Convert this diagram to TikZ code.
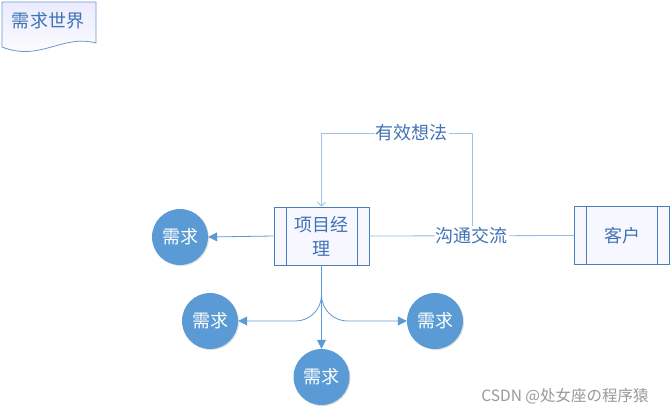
\documentclass[tikz,border=0pt]{standalone}
\usepackage{fontspec}
\setmainfont{Noto Sans CJK SC}
\usepackage{tikz}
\usetikzlibrary{arrows.meta, positioning, shadows}
\definecolor{lineblue}{HTML}{5B9BD5}
\definecolor{lightblue}{HTML}{9DC3E6}
\definecolor{boxblue}{HTML}{4A7EBB}
\definecolor{txtblue}{HTML}{3F73B5}

\tikzset{
	proc/.style={draw=boxblue, thick, fill=blue!3, minimum width=95pt, minimum height=58pt,
		text=txtblue, align=center, font=\fontsize{18}{24}\selectfont, inner sep=0pt,
		path picture={
			\draw[boxblue, thick] ([xshift=12pt]path picture bounding box.north west) -- ([xshift=12pt]path picture bounding box.south west);
			\draw[boxblue, thick] ([xshift=-12pt]path picture bounding box.north east) -- ([xshift=-12pt]path picture bounding box.south east);
		}},
	need/.style={circle, fill=lineblue, minimum size=56pt, inner sep=0pt, text=white,
		font=\fontsize{18}{20}\selectfont, drop shadow={opacity=.25, shadow xshift=1pt, shadow yshift=-1pt}},
	flow/.style={lineblue, thick, -{Triangle[width=9pt,length=9pt]}},
	lbl/.style={fill=white, text=txtblue, inner sep=1pt, font=\fontsize{18}{20}\selectfont}
}

\begin{document}
\begin{tikzpicture}[x=1pt, y=-1pt]
	\useasboundingbox[fill=white] (0,0) rectangle (671,413);
	% document shape
	\draw[boxblue!80, thick, top color=blue!8, bottom color=white]
		(2,2) -- (96,2) -- (96,43) .. controls (62,34) and (40,62) .. (2,47) -- cycle;
	\node[text=txtblue, font=\fontsize{18}{20}\selectfont] (world) at (48,21) {需求世界};

	\node[proc] (pm) at (321.5,236) {项目经\\理};
	\node[proc] (kh) at (622,235.5) {客户};

	\node[need] (n1) at (180,237) {需求};
	\node[need] (n2) at (210,321) {需求};
	\node[need] (n3) at (321.5,377) {需求};
	\node[need] (n4) at (435,321) {需求};

	% feedback loop
	\coordinate (c1) at (472,236);
	\coordinate (c2) at (472,133);
	\coordinate (c3) at (321.5,133);
	\draw[lightblue, thick, -{Straight Barb[length=4pt,width=8pt]}]
		(c1) -- (c2) -- node[lbl, pos=.4] (idea) {有效想法} (c3) -- (pm.north);
	\draw[lightblue!90!boxblue, thick] (pm.east) -- node[lbl] (talk) {沟通交流} (kh.west);

	\draw[flow] (pm.west) -- (n1.east);
	\draw[flow] (pm.south) -- (n3.north);
	\draw[flow, rounded corners=26pt] (pm.south) |- (n2.east);
	\draw[flow, rounded corners=26pt] (pm.south) |- (n4.west);

	\node[text=black!40, font=\fontsize{15.5}{18}\selectfont] (mark) at (565,396) {CSDN @处女座の程序猿};
\end{tikzpicture}
\end{document}
